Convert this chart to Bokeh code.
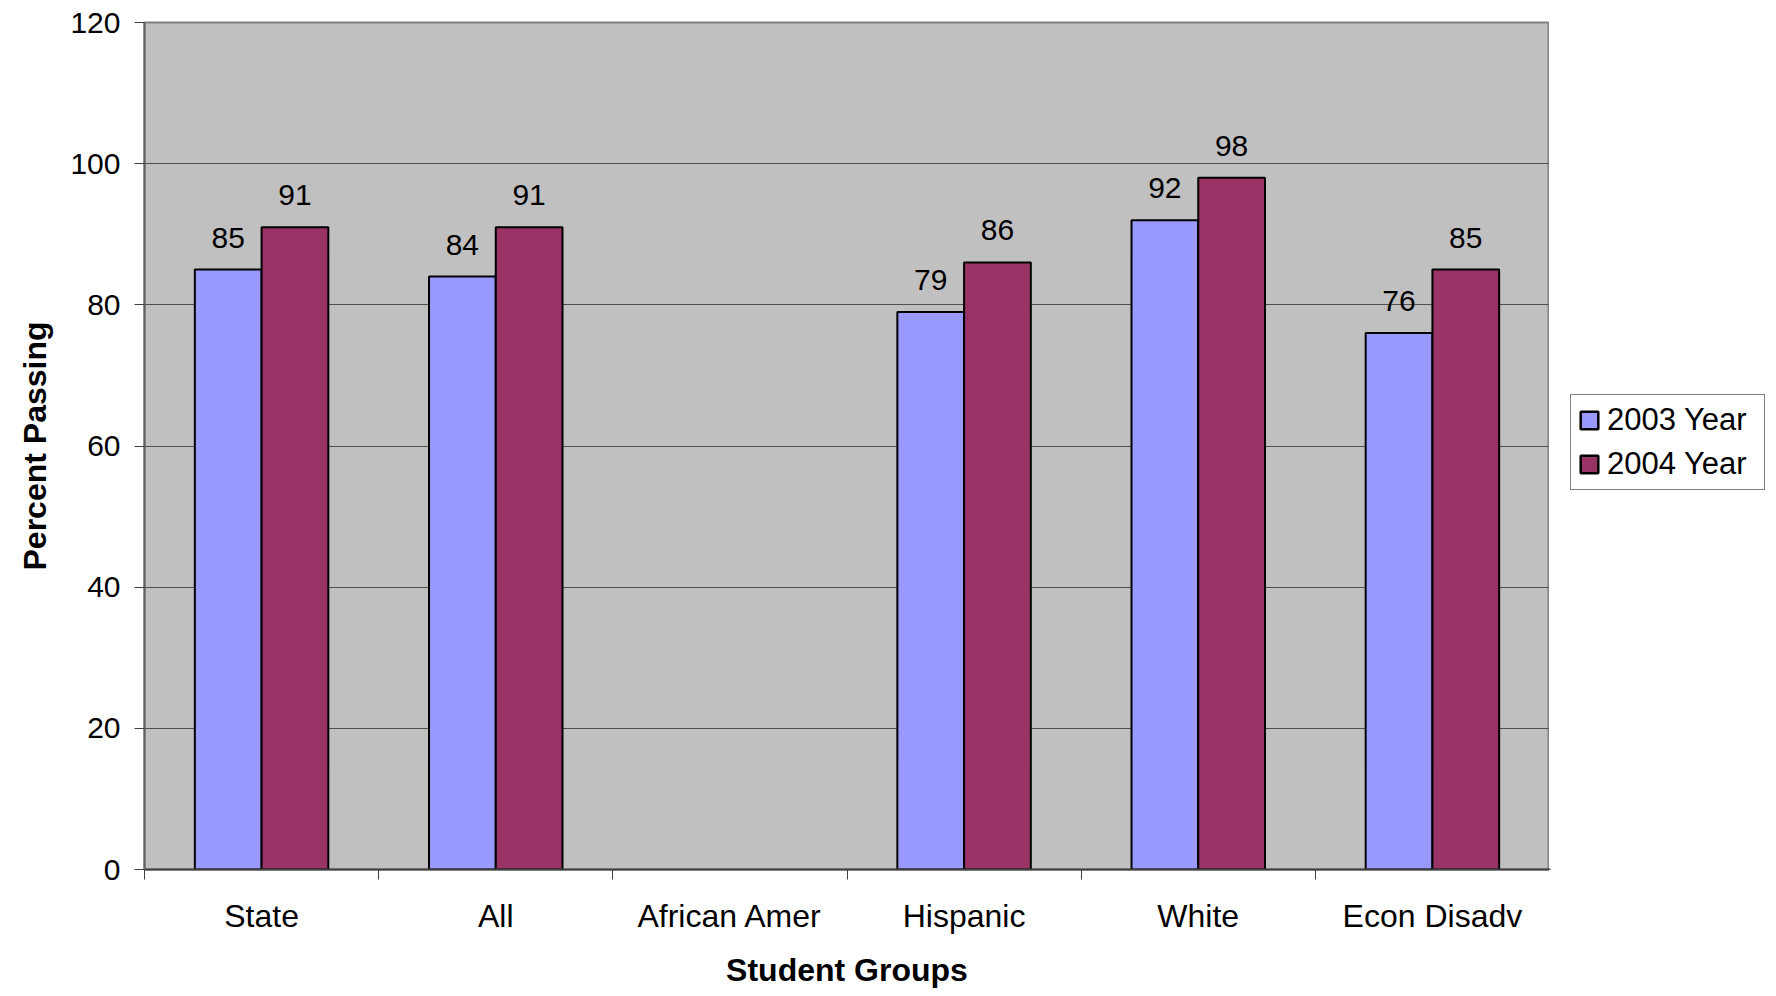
import numpy as np
from bokeh.plotting import figure
from bokeh.layouts import row
from bokeh.models import (ColumnDataSource, FixedTicker, Legend, LegendItem,
                          LabelSet, Range1d)
from bokeh.core.properties import value
from bokeh.embed import file_html
from bokeh.resources import INLINE

categories = ["State", "All", "African Amer", "Hispanic", "White", "Econ Disadv"]
year_2003 = [85, 84, None, 79, 92, 76]
year_2004 = [91, 91, None, 86, 98, 85]
series_names = ["2003 Year", "2004 Year"]
series_colors = ["#9999FF", "#993366"]
y_ticks = [0, 20, 40, 60, 80, 100, 120]

FONT = "Liberation Sans"
BAR_W = 0.285

p = figure(width=1549, height=990, output_backend="svg", toolbar_location=None,
           x_range=Range1d(0, len(categories)), y_range=Range1d(0, 120),
           min_border_left=144, min_border_right=0, min_border_top=22,
           min_border_bottom=118)
p.background_fill_color = "#C0C0C0"
p.border_fill_color = "white"
p.outline_line_color = "#808080"
p.outline_line_width = 2

for k, (vals, name, col) in enumerate(zip([year_2003, year_2004], series_names, series_colors)):
    xs, tops, labels = [], [], []
    for i, v in enumerate(vals):
        if v is None:
            continue
        xs.append(i + 0.5 + (k - 0.5) * BAR_W)
        tops.append(v)
        labels.append(str(v))
    src = ColumnDataSource(dict(x=xs, top=tops, label=labels))
    p.vbar(x="x", top="top", bottom=0, width=BAR_W, source=src,
           fill_color=col, line_color="black", line_width=2)
    lab = LabelSet(x="x", y="top", text="label", source=src, text_align="center",
                   text_baseline="alphabetic", y_offset=22, text_font=value(FONT),
                   text_font_size="30px", text_color="black")
    p.add_layout(lab)

# grid
p.xgrid.grid_line_color = None
p.ygrid.grid_line_color = "#505050"
p.ygrid.grid_line_width = 1
p.ygrid.ticker = FixedTicker(ticks=y_ticks)

# y axis
p.yaxis.ticker = FixedTicker(ticks=y_ticks)
p.yaxis.axis_label = "Percent Passing"
p.yaxis.axis_label_text_font = FONT
p.yaxis.axis_label_text_font_style = "bold"
p.yaxis.axis_label_text_font_size = "32px"
p.yaxis.axis_label_text_color = "black"
p.yaxis.axis_label_standoff = 14
p.yaxis.major_label_text_font = FONT
p.yaxis.major_label_text_font_size = "30px"
p.yaxis.major_label_text_color = "black"
p.yaxis.major_label_standoff = 14
p.yaxis.major_tick_out = 10
p.yaxis.major_tick_in = 0
p.yaxis.minor_tick_line_color = None
p.yaxis.axis_line_color = "#606060"
p.yaxis.axis_line_width = 2
p.yaxis.major_tick_line_color = "#404040"

# x axis
centers = [i + 0.5 for i in range(len(categories))]
bounds = list(range(len(categories) + 1))
p.xaxis.ticker = FixedTicker(ticks=centers, minor_ticks=bounds)
p.xaxis.major_label_overrides = {c: n for c, n in zip(centers, categories)}
p.xaxis.major_tick_in = 0
p.xaxis.major_tick_out = 0
p.xaxis.minor_tick_in = 0
p.xaxis.minor_tick_out = 10
p.xaxis.minor_tick_line_color = "#404040"
p.xaxis.axis_line_color = "#404040"
p.xaxis.axis_line_width = 2
p.xaxis.major_label_text_font = FONT
p.xaxis.major_label_text_font_size = "32px"
p.xaxis.major_label_text_color = "black"
p.xaxis.major_label_standoff = 18
p.xaxis.axis_label = "Student Groups"
p.xaxis.axis_label_text_font = FONT
p.xaxis.axis_label_text_font_style = "bold"
p.xaxis.axis_label_text_font_size = "32px"
p.xaxis.axis_label_text_color = "black"
p.xaxis.axis_label_standoff = 15

# legend panel (separate figure to the right)
pl = figure(width=227, height=990, output_backend="svg", toolbar_location=None,
            x_range=Range1d(0, 1), y_range=Range1d(0, 1),
            min_border=0)
pl.axis.visible = False
pl.grid.visible = False
pl.outline_line_color = None
pl.background_fill_color = "white"
pl.border_fill_color = "white"
items = []
for name, col in zip(series_names, series_colors):
    # off-screen proxy glyph, only used for the legend swatch
    r = pl.vbar(x=[-5], top=[-5], bottom=[-6], width=0.1,
                fill_color=col, line_color="black", line_width=2.5)
    items.append(LegendItem(label=name, renderers=[r]))

legend = Legend(items=items, location=(21, 379), orientation="vertical")
legend.label_text_font = FONT
legend.label_text_font_size = "31px"
legend.label_text_color = "black"
legend.glyph_width = 22
legend.glyph_height = 22
legend.label_standoff = 7
legend.label_width = 150
legend.spacing = 8
legend.padding = 7
legend.margin = 0
legend.border_line_color = "black"
legend.border_line_width = 1
legend.background_fill_color = "white"
legend.background_fill_alpha = 1
pl.add_layout(legend, "center")

layout = row(p, pl)
open("out.html", "w").write(file_html(layout, INLINE))
